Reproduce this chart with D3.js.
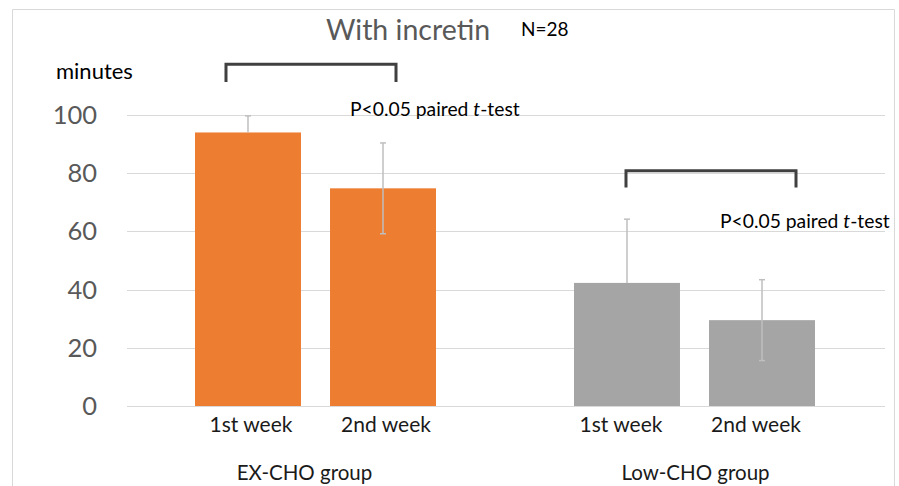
<!DOCTYPE html>
<html><head><meta charset="utf-8">
<script src="https://cdn.jsdelivr.net/npm/d3@7"></script>
<style>
html,body{margin:0;padding:0;background:#fff;}
svg{display:block;font-family:Lato,"Open Sans",sans-serif;}
</style></head>
<body>
<svg id="chart" width="899" height="486"></svg>
<script>
const groups = ["EX-CHO group", "Low-CHO group"];
const weeks = ["1st week", "2nd week"];
const means = { "EX-CHO group": [94, 74.8], "Low-CHO group": [42.3, 29.5] };
const sds   = { "EX-CHO group": [5.7, 15.6], "Low-CHO group": [21.9, 13.9] };
const groupColors = { "EX-CHO group": "#ED7D31", "Low-CHO group": "#A5A5A5" };
const yTicks = [0, 20, 40, 60, 80, 100];
const title = "With incretin";
const nLabel = "N=28";
const yLabel = "minutes";
// significance brackets: group, y (data units) of bar top and leg bottom
const brackets = [
  { group: "EX-CHO group", top: 117.4, bottom: 111.3, textY: 99.6 },
  { group: "Low-CHO group", top: 80.8, bottom: 75.1, textY: 61.0 }
];

const W = 899, H = 486;
const plot = { left: 127, right: 885, top: 115, bottom: 406 };
const svg = d3.select("#chart");

// outer frame
svg.append("path")
  .attr("d", `M12.5,${H+2} V9.5 H894.5 V${H+2}`)
  .attr("fill", "none").attr("stroke", "#d9d9d9").attr("stroke-width", 1);

const x0 = d3.scaleBand().domain(groups).range([plot.left, plot.right]).padding(0);
const x1 = d3.scaleBand().domain(weeks).range([68, 309]).paddingInner(0.215).paddingOuter(0);
const y = d3.scaleLinear().domain([0, 100]).range([plot.bottom, plot.top]);

// gridlines
svg.append("g").selectAll("line").data(yTicks).join("line")
  .attr("x1", plot.left).attr("x2", plot.right)
  .attr("y1", d => Math.round(y(d)) + 0.5).attr("y2", d => Math.round(y(d)) + 0.5)
  .attr("stroke", "#d9d9d9").attr("stroke-width", 1);

// y axis labels
const yAxis = d3.axisLeft(y).tickValues(yTicks).tickSize(0).tickPadding(0);
const yg = svg.append("g").attr("transform", "translate(97,0)").call(yAxis);
yg.select(".domain").remove();
yg.selectAll("text").attr("font-size", 25.5).attr("fill", "#595959")
  .attr("font-family", "Lato, sans-serif").attr("dy", "0.33em");

const rows = [];
groups.forEach(g => weeks.forEach((w, i) => rows.push({ g, w, i, v: means[g][i], sd: sds[g][i] })));

const errColor = "#BFBFBF";
function drawErr(sel) {
  sel.each(function(d) {
    const cx = x0(d.g) + x1(d.w) + x1.bandwidth() / 2;
    const gEl = d3.select(this);
    const lo = d.i === 0 ? d.v : d.v - d.sd;
    gEl.append("line").attr("x1", cx).attr("x2", cx)
      .attr("y1", y(d.v + d.sd)).attr("y2", y(lo))
      .attr("stroke", errColor).attr("stroke-width", 1.5);
    gEl.append("line").attr("x1", cx - 3).attr("x2", cx + 3)
      .attr("y1", y(d.v + d.sd)).attr("y2", y(d.v + d.sd))
      .attr("stroke", errColor).attr("stroke-width", 1.5);
    if (d.i !== 0) {
      gEl.append("line").attr("x1", cx - 3).attr("x2", cx + 3)
        .attr("y1", y(d.v - d.sd)).attr("y2", y(d.v - d.sd))
        .attr("stroke", errColor).attr("stroke-width", 1.5);
    }
  });
}

// bars
svg.append("g").selectAll("rect").data(rows).join("rect")
  .attr("x", d => x0(d.g) + x1(d.w))
  .attr("y", d => y(d.v))
  .attr("width", x1.bandwidth())
  .attr("height", d => y(0) - y(d.v))
  .attr("fill", d => groupColors[d.g]);

svg.append("g").selectAll("g").data(rows).join("g").call(drawErr);

// week labels
svg.append("g").selectAll("text").data(rows).join("text")
  .attr("x", d => x0(d.g) + x1(d.w) + x1.bandwidth() / 2 + (d.g === groups[0] ? 3 : -6))
  .attr("y", 432)
  .attr("text-anchor", "middle").attr("font-size", 21).attr("fill", "#1a1a1a")
  .text(d => d.w);

// group labels
svg.append("g").selectAll("text").data(groups).join("text")
  .attr("x", d => x0(d) + x0.bandwidth() / 2 - (d === groups[0] ? 12 : 0))
  .attr("y", 480)
  .attr("text-anchor", "middle").attr("font-size", 20.5).attr("fill", "#1a1a1a")
  .text(d => d);

// title
svg.append("text").attr("x", 408).attr("y", 40).attr("text-anchor", "middle")
  .attr("font-size", 28.5).attr("fill", "#595959").text(title);
svg.append("text").attr("x", 521).attr("y", 36)
  .attr("font-size", 19).attr("fill", "#000").text(nLabel);
svg.append("text").attr("x", 56).attr("y", 79)
  .attr("font-size", 22).attr("fill", "#000").text(yLabel);

// brackets
brackets.forEach((b, k) => {
  const c1 = x0(b.group) + x1(weeks[0]) + x1.bandwidth() / 2;
  const c2 = x0(b.group) + x1(weeks[1]) + x1.bandwidth() / 2;
  const xl = k === 0 ? c1 - 22 : c1 - 1;
  const xr = k === 0 ? c2 + 13 : c2 + 34;
  svg.append("path")
    .attr("d", `M${xl},${y(b.bottom)} V${y(b.top)} H${xr} V${y(b.bottom)}`)
    .attr("fill", "none").attr("stroke", "#404040").attr("stroke-width", 3);
  const tx = k === 0 ? c2 - 33 : c2 - 42;
  const t = svg.append("text").attr("x", tx).attr("y", y(b.textY))
    .attr("font-size", 19.3).attr("fill", "#000");
  t.append("tspan").text("P<0.05 paired ");
  t.append("tspan").attr("font-style", "italic").text("t");
  t.append("tspan").text("-test");
});
</script>
</body></html>
